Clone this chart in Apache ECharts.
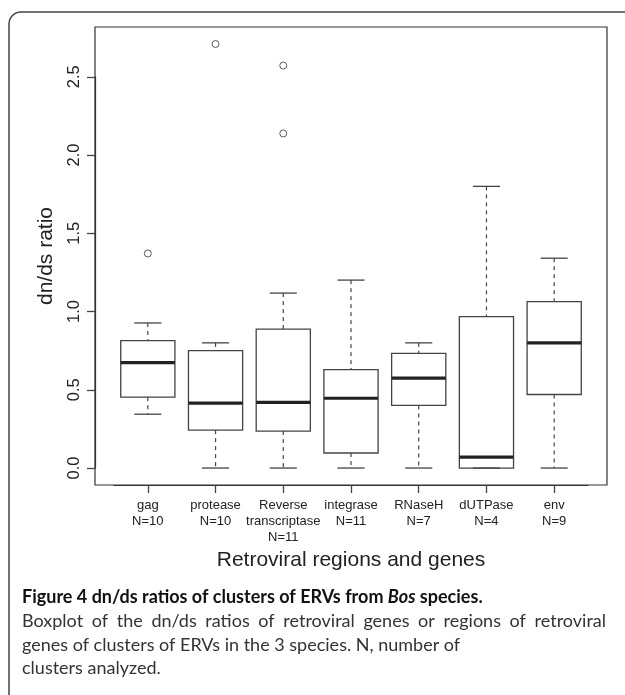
<!DOCTYPE html>
<html>
<head>
<meta charset="utf-8">
<script src="https://cdn.jsdelivr.net/npm/echarts@6/dist/echarts.min.js"></script>
<style>
html,body{margin:0;padding:0;background:#fff;}
#chart{width:625px;height:695px;}
</style>
</head>
<body>
<div id="chart"></div>
<script>
// ---- data ----
const geneNames = ['gag', 'protease', 'Reverse\ntranscriptase', 'integrase', 'RNaseH', 'dUTPase', 'env'];
const clusterCounts = [10, 10, 11, 11, 7, 4, 9];
const whiskerLow  = [0.344, 0.000, 0.000, 0.000, 0.000, 0.000, 0.000];
const quartile1   = [0.453, 0.242, 0.236, 0.096, 0.400, 0.000, 0.470];
const medians     = [0.674, 0.415, 0.420, 0.446, 0.574, 0.070, 0.800];
const quartile3   = [0.814, 0.750, 0.888, 0.629, 0.733, 0.967, 1.063];
const whiskerHigh = [0.927, 0.800, 1.118, 1.201, 0.800, 1.800, 1.341];
const outlierGene  = ['gag', 'protease', 'Reverse\ntranscriptase', 'Reverse\ntranscriptase'];
const outlierValue = [1.371, 2.710, 2.572, 2.138];
const yTickMin = 0, yTickMax = 2.5, yTickStep = 0.5;
const xName = 'Retroviral regions and genes';
const yName = 'dn/ds ratio';
const yMin = -0.1084, yMax = 2.8184;
const captionTitleA = 'Figure 4 dn/ds ratios of clusters of ERVs from ';
const captionTitleB = 'Bos';
const captionTitleC = ' species.';
const captionLines = [
  'Boxplot of the dn/ds ratios of retroviral genes or regions of retroviral',
  'genes of clusters of ERVs in the 3 species. N, number of',
  'clusters analyzed.'
];

// ---- build ----
const categories = geneNames.map((g, i) => g + '\nN=' + clusterCounts[i]);
const boxData = geneNames.map((g, i) => [i, whiskerLow[i], quartile1[i], medians[i], quartile3[i], whiskerHigh[i]]);
const outData = outlierGene.map((g, k) => [geneNames.indexOf(g), outlierValue[k]]);

const FONT = 'Liberation Sans, Arial, Helvetica, sans-serif';
const LINE = '#444';
const TICK = {color: '#444', width: 1.3};

function renderBox(params, api) {
  const i = api.value(0);
  const lo = api.coord([i, api.value(1)]);
  const b1 = api.coord([i, api.value(2)]);
  const md = api.coord([i, api.value(3)]);
  const b3 = api.coord([i, api.value(4)]);
  const hi = api.coord([i, api.value(5)]);
  const bw = api.size([1, 0])[0] * 0.8;
  const cw = bw / 2;
  const x = lo[0];
  const dash = {stroke: LINE, lineWidth: 1.2, lineDash: [4, 4], fill: null};
  const solid = {stroke: LINE, lineWidth: 1.3, fill: null};
  return {
    type: 'group',
    children: [
      {type: 'line', shape: {x1: x, y1: hi[1], x2: x, y2: b3[1]}, style: dash},
      {type: 'line', shape: {x1: x, y1: b1[1], x2: x, y2: lo[1]}, style: dash},
      {type: 'line', shape: {x1: x - cw / 2, y1: hi[1], x2: x + cw / 2, y2: hi[1]}, style: solid},
      {type: 'line', shape: {x1: x - cw / 2, y1: lo[1], x2: x + cw / 2, y2: lo[1]}, style: solid},
      {type: 'rect', shape: {x: x - bw / 2, y: b3[1], width: bw, height: b1[1] - b3[1]},
        style: {stroke: LINE, lineWidth: 1.3, fill: 'rgba(255,255,255,0)'}},
      {type: 'line', shape: {x1: x - bw / 2, y1: md[1], x2: x + bw / 2, y2: md[1]},
        style: {stroke: '#222', lineWidth: 3.2}}
    ]
  };
}

// layout
const frameLeft = 95, frameTop = 27, frameW = 512, frameH = 458;
const unit = frameW / 7.56;
const innerLeft = frameLeft + (0.78 - 0.5) * unit;
const pxPerVal = frameH / (yMax - yMin);
const tickTop = frameTop + (yMax - yTickMax) * pxPerVal;
const tickH = (yTickMax - yTickMin) * pxPerVal;

// justified first caption line
const CAP_FONT = 'Lato';
const CAP_SIZE = 18;
const capLeft = 22, capRight = 606;
const mctx = document.createElement('canvas').getContext('2d');
mctx.font = CAP_SIZE + 'px ' + CAP_FONT;
const words = captionLines[0].split(' ');
const wordsW = words.reduce((s, w) => s + mctx.measureText(w).width, 0);
const spaceW = (capRight - capLeft - wordsW) / (words.length - 1);
const justified = words.map(w => '{w|' + w + '}').join('{sp| }');

const chart = echarts.init(document.getElementById('chart'), null, {renderer: 'canvas'});
chart.setOption({
  backgroundColor: '#fff',
  animation: false,
  grid: [
    {left: innerLeft, top: frameTop, width: unit * 7, height: frameH, show: false},
    {left: frameLeft, top: frameTop, width: frameW, height: frameH, show: true,
      borderColor: '#333', borderWidth: 1.2, backgroundColor: 'transparent'},
    {left: frameLeft, top: tickTop, width: frameW, height: tickH, show: false}
  ],
  xAxis: [
    {type: 'category', gridIndex: 0, data: categories, boundaryGap: true,
      axisLine: {show: true, onZero: false, lineStyle: {color: '#333', width: 1.2}},
      axisTick: {show: true, interval: 0, alignWithLabel: true, length: 8, lineStyle: TICK},
      axisLabel: {interval: 0, fontSize: 13, lineHeight: 16, color: '#222', margin: 12, fontFamily: FONT},
      splitLine: {show: false},
      name: xName, nameLocation: 'middle', nameGap: 65,
      nameTextStyle: {fontSize: 21, color: '#222', fontFamily: FONT}},
    {type: 'value', gridIndex: 1, min: 0, max: 1, show: false},
    {type: 'value', gridIndex: 2, min: 0, max: 1, show: false}
  ],
  yAxis: [
    {type: 'value', gridIndex: 0, min: yMin, max: yMax, show: false},
    {type: 'value', gridIndex: 1, min: yMin, max: yMax,
      axisLine: {show: false, onZero: false}, axisTick: {show: false}, axisLabel: {show: false},
      splitLine: {show: false},
      name: yName, nameLocation: 'middle', nameRotate: 90, nameGap: 38,
      nameTextStyle: {fontSize: 21, color: '#222', fontFamily: FONT}},
    {type: 'value', gridIndex: 2, min: yTickMin, max: yTickMax, interval: yTickStep,
      axisLine: {show: true, onZero: false, lineStyle: {color: '#333', width: 1.2}},
      splitLine: {show: false},
      axisTick: {show: true, length: 8, lineStyle: TICK},
      axisLabel: {rotate: 90, fontSize: 16.5, color: '#222', margin: 12, fontFamily: FONT,
        formatter: v => v.toFixed(1)}}
  ],
  series: [
    {type: 'custom', xAxisIndex: 0, yAxisIndex: 0, renderItem: renderBox,
      encode: {x: 0, y: [1, 2, 3, 4, 5]}, data: boxData, clip: false},
    {type: 'scatter', xAxisIndex: 0, yAxisIndex: 0, data: outData, symbol: 'circle', symbolSize: 7,
      itemStyle: {color: '#fff', borderColor: '#333', borderWidth: 1}}
  ],
  graphic: [
    {type: 'rect', shape: {x: 9, y: 12, width: 650, height: 720, r: 12}, silent: true, z: -1,
      style: {fill: 'transparent', stroke: '#444', lineWidth: 1.5}},
    {type: 'text', left: capLeft, top: 588,
      style: {text: '{b|' + captionTitleA + '}{bi|' + captionTitleB + '}{b|' + captionTitleC + '}',
        rich: {
          b: {fontFamily: CAP_FONT, fontWeight: 'bold', fontSize: CAP_SIZE, fill: '#111'},
          bi: {fontFamily: CAP_FONT, fontWeight: 'bold', fontStyle: 'italic', fontSize: CAP_SIZE, fill: '#111'}
        }}},
    {type: 'text', left: capLeft, top: 612,
      style: {text: justified, rich: {
        w: {fontFamily: CAP_FONT, fontSize: CAP_SIZE, lineHeight: 24, fill: '#333'},
        sp: {fontFamily: CAP_FONT, fontSize: CAP_SIZE, lineHeight: 24, width: spaceW}
      }}},
    {type: 'text', left: capLeft, top: 633,
      style: {text: captionLines[1], fontFamily: CAP_FONT, fontSize: CAP_SIZE, lineHeight: 24, fill: '#333'}},
    {type: 'text', left: capLeft, top: 656,
      style: {text: captionLines[2], fontFamily: CAP_FONT, fontSize: CAP_SIZE, lineHeight: 24, fill: '#333'}}
  ]
});
</script>
</body>
</html>
